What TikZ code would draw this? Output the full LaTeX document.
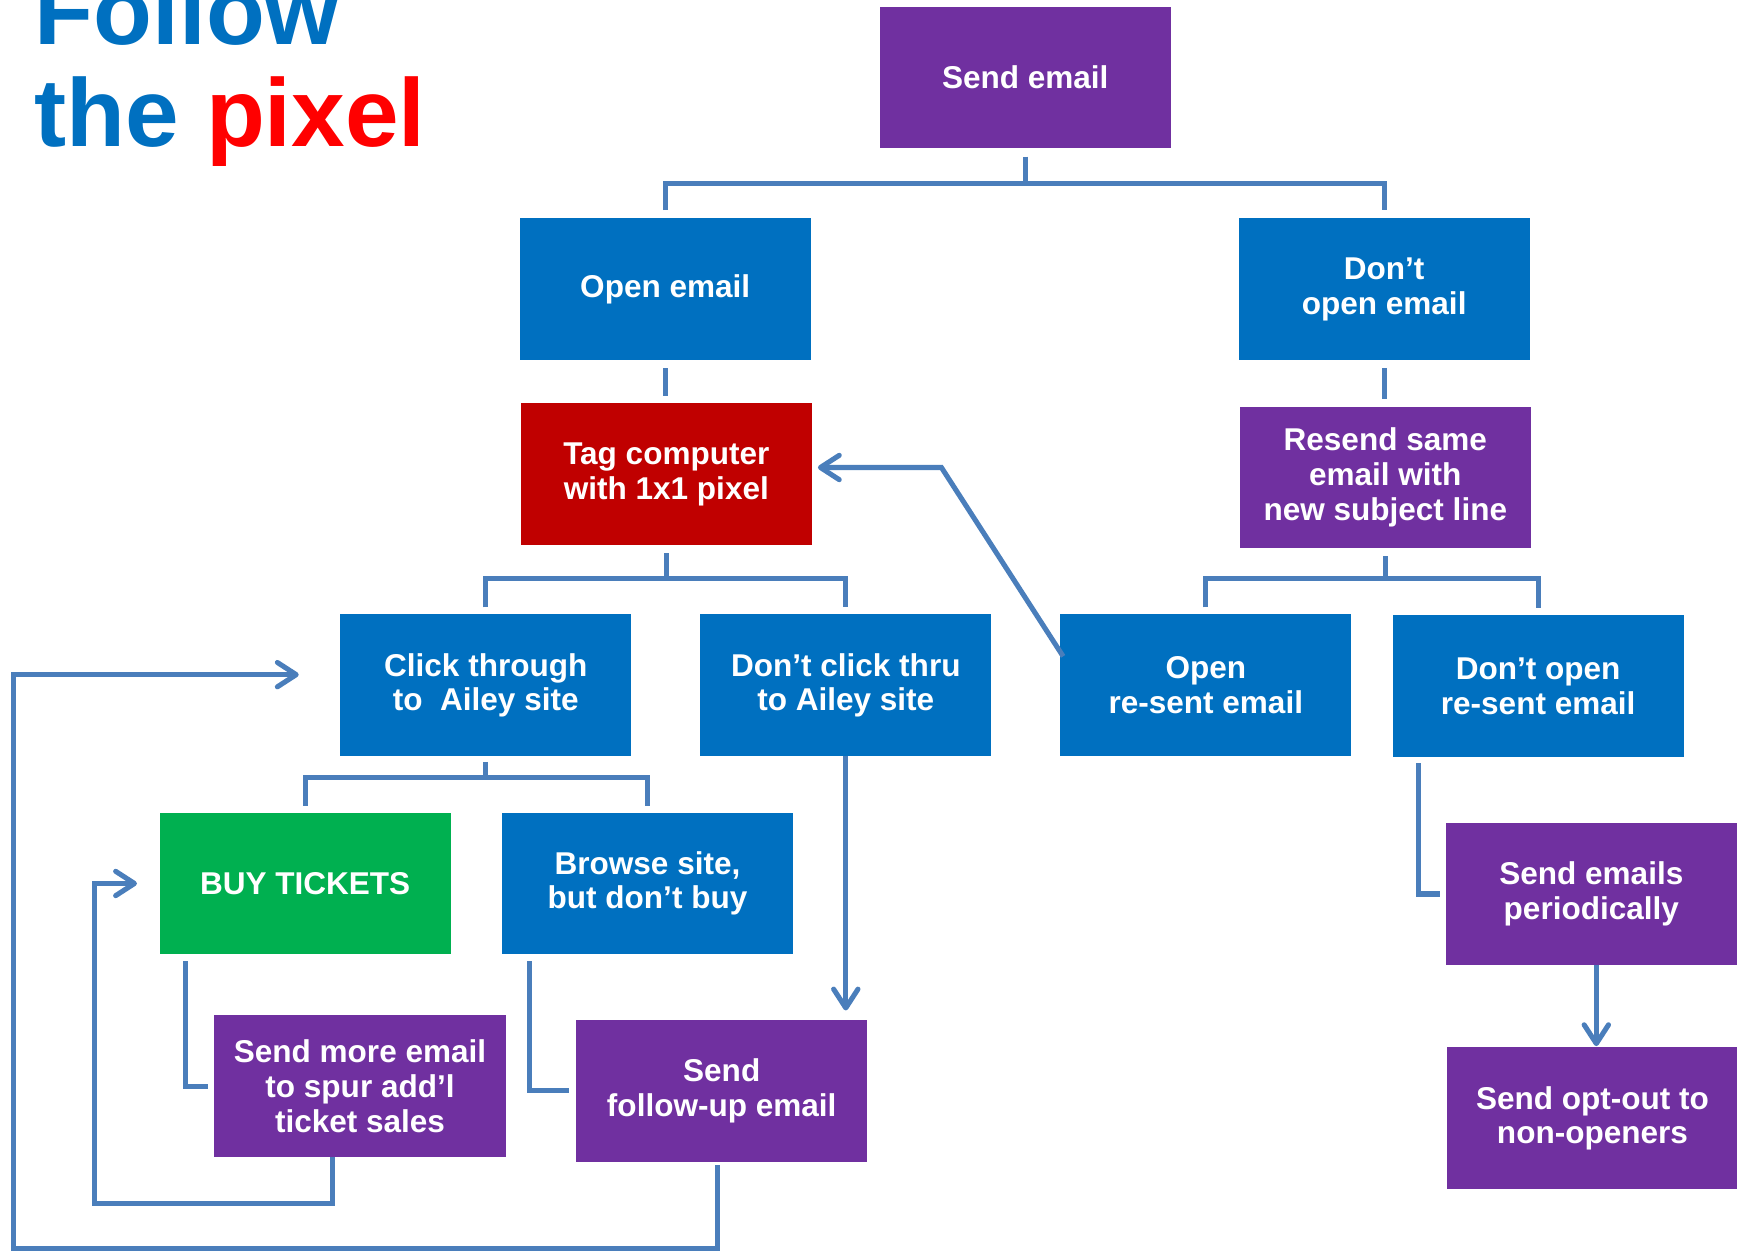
\documentclass[tikz,border=0pt]{standalone}
\usepackage{fontspec}
\setmainfont{Liberation Sans}
\usetikzlibrary{arrows.meta,calc}
\definecolor{boxblue}{RGB}{0,112,192}
\definecolor{boxpurple}{RGB}{112,48,160}
\definecolor{boxred}{RGB}{192,0,0}
\definecolor{boxgreen}{RGB}{0,176,80}
\definecolor{linkblue}{RGB}{74,126,187}
\definecolor{titleblue}{RGB}{0,112,192}
\definecolor{titlered}{RGB}{255,0,0}
\begin{document}
\begin{tikzpicture}[x=0.02cm,y=-0.02cm,
  box/.style={minimum width=5.26cm,minimum height=2.56cm,inner sep=0pt,text=white,
    font=\bfseries\fontsize{16.2}{17.8}\selectfont,align=center},
  bblue/.style={box,fill=boxblue},
  bpurple/.style={box,fill=boxpurple},
  bred/.style={box,fill=boxred},
  bgreen/.style={box,fill=boxgreen},
  conn/.style={draw=linkblue,line width=2.6pt},
  arr/.style={-{Straight Barb[length=0.34cm,width=0.44cm,round]}},
  titletext/.style={anchor=base west,inner sep=0pt,font=\bfseries\fontsize{49.5}{52}\selectfont,text=titleblue}
]
\useasboundingbox (0,0) rectangle (1568,1130);

% title
\node[titletext] (title1) at (31,40.6) {Follow};
\node[titletext] (title2) at (31,132.5) {the \textcolor{titlered}{pixel}};

% boxes
\node[bpurple] (send) at (925.5,70) {\raisebox{-2pt}{Send email}};
\node[bblue] (open) at (600.5,261) {\raisebox{-2pt}{Open email}};
\node[bblue] (dont) at (1249.5,261) {Don’t\\open email};
\node[bred] (tag) at (601.5,428) {Tag computer\\with 1x1 pixel};
\node[bpurple] (resend) at (1250.5,431) {Resend same\\email with\\new subject line};
\node[bblue] (click) at (438.5,618.5) {Click through\\to~ Ailey site};
\node[bblue] (dontclick) at (763.5,618.5) {Don’t click thru\\to Ailey site};
\node[bblue] (openre) at (1088.5,618.5) {Open\\re-sent email};
\node[bblue] (dontopenre) at (1388.5,619.5) {Don’t open\\re-sent email};
\node[bgreen] (buy) at (275.5,797.5) {BUY TICKETS};
\node[bblue] (browse) at (584.5,797.5) {Browse site,\\but don’t buy};
\node[bpurple] (sendmore) at (325,980.5) {Send more email\\to spur add’l\\ticket sales};
\node[bpurple] (followup) at (651.5,984.5) {Send\\follow-up email};
\node[bpurple] (periodic) at (1436.5,807) {Send emails\\periodically};
\node[bpurple] (optout) at (1437.5,1009.5) {Send opt-out to\\non-openers};

% tree connectors
\draw[conn] ($(send.south)+(0,7)$) -- ($(send.south)+(0,31)$);
\draw[conn] ($(open.north)+(0,-7)$) |- ($(send.south)+(0,31)$) -| ($(dont.north)+(0,-7)$);
\draw[conn] ($(open.south)+(0,7)$) -- ($(open.south)+(0,32)$);
\draw[conn] ($(dont.south)+(0,7)$) -- ($(dont.south)+(0,35)$);
\draw[conn] ($(tag.south)+(0,7)$) -- ($(tag.south)+(0,30)$);
\draw[conn] ($(click.north)+(0,-6)$) |- ($(tag.south)+(0,30)$) -| ($(dontclick.north)+(0,-6)$);
\draw[conn] ($(resend.south)+(0,7)$) -- ($(resend.south)+(0,27)$);
\draw[conn] ($(openre.north)+(0,-6)$) |- ($(resend.south)+(0,27)$) -| ($(dontopenre.north)+(0,-6)$);
\draw[conn] ($(click.south)+(0,5)$) -- ($(click.south)+(0,19)$);
\draw[conn] ($(buy.north)+(0,-6)$) |- ($(click.south)+(0,19)$) -| ($(browse.north)+(0,-6)$);

% elbows
\draw[conn] ($(buy.south west)+(24,6)$) |- ($(sendmore.west)+(-5,0)$);
\draw[conn] ($(browse.south west)+(25,6)$) |- ($(followup.west)+(-6,0)$);
\draw[conn] ($(dontopenre.south west)+(24,5)$) |- ($(periodic.west)+(-5,0)$);

% arrows
\draw[conn,arr] (dontclick.south) -- ($(dontclick.south |- followup.north)+(0,-8)$);
\draw[conn,arr] ($(periodic.south)+(4.5,0)$) -- ($(periodic.south)+(4.5,73)$);
\draw[conn,arr] ($(openre.west)+(3,-26)$) -- ($(tag.east)+(116.5,-6)$) -- ($(tag.east)+(5,-6)$);
\coordinate (loopA) at (12,1127);
\coordinate (loopB) at (85,1086);
\draw[conn,arr] ($(followup.south)+(-3.5,3)$) |- (loopA) |- ($(click.west)+(-37,-9.5)$);
\draw[conn,arr] ($(sendmore.south)+(-25,0)$) |- (loopB) |- ($(buy.west)+(-20,0)$);
\end{tikzpicture}
\end{document}
